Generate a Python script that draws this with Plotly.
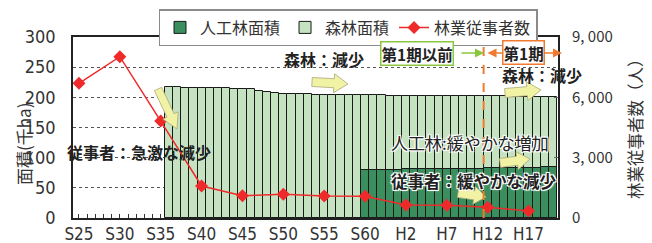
import plotly.graph_objects as go

# ---------------- data ----------------
bar_years = list(range(1961, 2009))
forest_area = [217.5, 216.5, 216, 216, 215.5, 215.5, 215, 215, 214.5, 214,
               213, 211, 209, 207.5, 206, 205.5, 205, 205, 204.5, 204.5,
               204, 204, 204, 204, 203.5, 203.5, 203.5, 203, 203, 203,
               203, 203, 202.5, 202.5, 202.5, 202, 202, 202, 202, 201.5,
               201.5, 201.5, 201, 201, 201, 201, 201, 201]
plant_years = list(range(1985, 2009))
plant_area = [79.5, 79.5, 80, 80, 80, 80.5, 80.5, 81, 81, 81, 81.5, 81.5,
              82, 82, 82, 82.5, 82.5, 83, 83, 83, 83.5, 83.5, 84, 84]
worker_years = [1950, 1955, 1960, 1965, 1970, 1975, 1980, 1985, 1990, 1995, 2000, 2005]
workers = [6700, 8020, 4820, 1590, 1110, 1180, 1090, 1080, 650, 630, 530, 350]

label_years = [1950, 1955, 1960, 1965, 1970, 1975, 1980, 1985, 1990, 1995, 2000, 2005]
label_text = ["S25", "S30", "S35", "S40", "S45", "S50", "S55", "S60", "H2", "H7", "H12", "H17"]
y2_vals = [0, 3000, 6000, 9000]
y2_text = ["0", "3, 000", "6, 000", "9, 000"]

# ---------------- layout geometry ----------------
W, H = 652, 243
ML, MR, MT, MB = 73, 94, 37, 25
PW, PH = W - ML - MR, H - MT - MB

def px(xp):
    return (xp - ML) / PW

def py(yp):
    return (H - MB - yp) / PH

JP = "Noto Sans CJK JP"
NUM = "Liberation Sans Narrow, DejaVu Sans Condensed, Arial Narrow, sans-serif"
TXT = "#222222"

tick_vals = list(range(1950, 2009))
tick_text = [label_text[label_years.index(y)] if y in label_years else "" for y in tick_vals]

fig = go.Figure()
fig.add_trace(go.Bar(x=bar_years, y=forest_area, name="森林面積", width=1,
                     marker=dict(color="#c5e3c1", line=dict(color="#1a1a1a", width=1)),
                     legendrank=2))
fig.add_trace(go.Bar(x=plant_years, y=plant_area, name="人工林面積", width=1,
                     marker=dict(color="#3b8f5e", line=dict(color="#1a1a1a", width=1)),
                     legendrank=1))
fig.add_trace(go.Scatter(x=worker_years, y=workers, name="林業従事者数", yaxis="y2",
                         mode="lines+markers",
                         line=dict(color="#ee2a2a", width=1.5),
                         marker=dict(symbol="diamond", size=10, color="#ee2a2a"),
                         legendrank=3))

fig.update_layout(
    width=W, height=H, margin=dict(l=ML, r=MR, t=MT, b=MB, autoexpand=False),
    paper_bgcolor="white", plot_bgcolor="white",
    barmode="overlay", bargap=0,
    showlegend=True,
    legend=dict(orientation="h", x=px(348), xanchor="center", y=py(9), yanchor="top",
                bordercolor="#8a8a8a", borderwidth=1.5, bgcolor="white",
                font=dict(family=JP, size=16, color="#333"),
                itemwidth=30, tracegroupgap=0),
    xaxis=dict(range=[1949.27, 2008.6], tickmode="array", tickvals=tick_vals, ticktext=tick_text,
               ticks="inside", ticklen=4, tickcolor="#333", tickwidth=1,
               showline=True, mirror=True, linecolor="#222", linewidth=1.5,
               showgrid=False, zeroline=False, layer="below traces", automargin=False,
               tickfont=dict(family=NUM, size=17, color="#333")),
    yaxis=dict(range=[0, 300], dtick=50, showgrid=True, gridcolor="#555",
               griddash="dot", gridwidth=1, zeroline=False, automargin=False,
               showline=True, mirror=True, linecolor="#222", linewidth=1.5,
               ticks="", ticklabelstandoff=12,
               tickfont=dict(family=NUM, size=18, color="#333")),
    yaxis2=dict(range=[0, 9000], overlaying="y", side="right", showgrid=False,
                zeroline=False, tickmode="array", tickvals=y2_vals, ticktext=y2_text,
                ticks="inside", ticklen=4, tickcolor="#666", showline=False,
                ticklabelstandoff=13, automargin=False,
                tickfont=dict(family=JP, size=15, color="#333")),
)

halo = "1px 1px 0 #fff, -1px -1px 0 #fff, 1px -1px 0 #fff, -1px 1px 0 #fff, 0 0 3px #fff"

def note(text, xc, yc, size=16, bold=True, shadow=None, **kw):
    f = dict(family=JP, size=size, color=TXT, weight="bold" if bold else "normal")
    if shadow:
        f["shadow"] = shadow
    fig.add_annotation(text=text, x=px(xc), y=py(yc), xref="paper", yref="paper",
                       showarrow=False, xanchor="center", yanchor="middle", font=f, **kw)

# yellow block arrows
def block_arrow(x0, y0, x1, y1, sw=4.5, hw=9.5, hl=14):
    import math
    dx, dy = x1 - x0, y1 - y0
    L = math.hypot(dx, dy)
    ux, uy = dx / L, dy / L
    nx, ny = -uy, ux
    bx, by = x1 - ux * hl, y1 - uy * hl
    pts = [(x0 + nx * sw, y0 + ny * sw), (bx + nx * sw, by + ny * sw),
           (bx + nx * hw, by + ny * hw), (x1, y1),
           (bx - nx * hw, by - ny * hw), (bx - nx * sw, by - ny * sw),
           (x0 - nx * sw, y0 - ny * sw)]
    path = "M " + " L ".join(f"{px(a):.5f},{py(b):.5f}" for a, b in pts) + " Z"
    fig.add_shape(type="path", path=path, xref="paper", yref="paper",
                  fillcolor="#f2f2a4", line=dict(color="#a8a878", width=0.8), layer="above")

block_arrow(158, 89, 177, 129, sw=4, hw=8.5, hl=15)
block_arrow(312, 82, 348, 84)
block_arrow(505, 93, 541, 90)
block_arrow(500, 163, 530, 159, sw=4.5, hw=9, hl=13)
block_arrow(458, 193, 486, 197, sw=4.5, hw=9, hl=12)

# period divider
fig.add_shape(type="line", x0=1999.5, x1=1999.5, y0=0, y1=1, xref="x", yref="paper",
              line=dict(color="#f07a30", width=2, dash="dash"), layer="above")

# green arrow to divider
fig.add_annotation(x=px(484), y=py(53), ax=460 - 484, ay=0, xref="paper", yref="paper",
                   axref="pixel", ayref="pixel", text="", showarrow=True,
                   arrowhead=2, arrowsize=1.2, arrowwidth=1.5, arrowcolor="#8cc63f")
# orange double arrow
fig.add_annotation(x=px(562), y=py(53), ax=486 - 562, ay=0, xref="paper", yref="paper",
                   axref="pixel", ayref="pixel", text="", showarrow=True,
                   arrowhead=2, startarrowhead=2, arrowside="end+start",
                   arrowsize=1.2, startarrowsize=1.2, arrowwidth=1.5, arrowcolor="#f07a30")

note("第1期以前", 417, 53, size=15.5, bordercolor="#8cc63f", borderwidth=1.5,
     borderpad=0, bgcolor="white")
note("第1期", 523.5, 52.5, size=15.5, bordercolor="#f07a30", borderwidth=1.5,
     borderpad=0, bgcolor="white")

note("従事者：急激な減少", 139, 152, size=16)
note("森林：減少", 323.5, 59, size=16)
note("森林：減少", 541.5, 75, size=16)
note("人工林:緩やかな増加", 470, 142, size=17, bold=False, shadow=halo)
note("従事者：緩やかな減少", 473.5, 181, size=16.5, shadow=halo)

# axis titles
fig.add_annotation(text="面積(千ha)", x=px(23), y=py(144), xref="paper", yref="paper",
                   showarrow=False, textangle=-90, xanchor="center", yanchor="middle",
                   font=dict(family=JP, size=17, color="#333"))
fig.add_annotation(text="林業従事者数（人）", x=px(635), y=py(125), xref="paper", yref="paper",
                   showarrow=False, textangle=-90, xanchor="center", yanchor="middle",
                   font=dict(family=JP, size=16.5, color="#333"))

fig.write_html("out.html", config={"displayModeBar": False},
               post_script="document.body.style.margin='0';")
